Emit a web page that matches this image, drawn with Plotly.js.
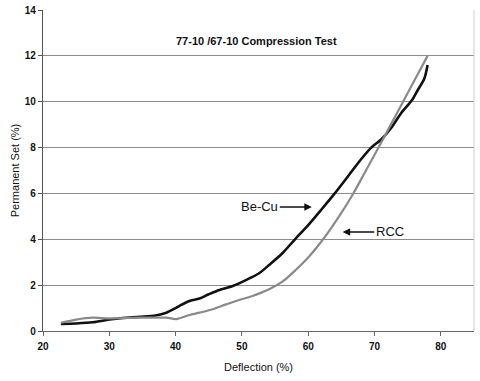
<!DOCTYPE html>
<html>
<head>
<meta charset="utf-8">
<script src="https://cdn.plot.ly/plotly-3.0.1.min.js"></script>
<style>
html,body{margin:0;padding:0;background:#fff;}
#chart{width:480px;height:381px;}
</style>
</head>
<body>
<div id="chart"></div>
<script>
// Be-Cu series (black)
var beCuX = [22.7, 25, 27.5, 30, 32, 34.6, 37, 38.6, 40, 40.6, 42, 43.6, 45, 46.6, 48.6, 50.6, 52.6, 54.1, 56.1, 58, 60, 62, 64, 66, 68, 69.5, 71, 72.5, 74, 75.6, 76.5, 77.5, 78];
var beCuY = [0.31, 0.33, 0.38, 0.5, 0.57, 0.62, 0.68, 0.8, 1.0, 1.1, 1.3, 1.42, 1.6, 1.79, 1.96, 2.22, 2.52, 2.88, 3.39, 4.0, 4.62, 5.3, 6.0, 6.75, 7.5, 8.0, 8.35, 8.85, 9.5, 10.05, 10.5, 11.0, 11.6];
// RCC series (gray)
var rccX = [22.7, 25, 27.5, 30, 32, 34.6, 38.6, 40.1, 42.1, 43.6, 45.6, 47.5, 49.1, 51.6, 54.1, 56.1, 58.1, 60.1, 62.5, 64.7, 66.8, 68.7, 70.6, 72.45, 74.3, 76.15, 78];
var rccY = [0.36, 0.5, 0.58, 0.55, 0.56, 0.58, 0.58, 0.52, 0.7, 0.8, 0.95, 1.15, 1.31, 1.53, 1.82, 2.15, 2.66, 3.24, 4.1, 5.02, 6.0, 7.0, 8.0, 9.0, 10.0, 11.0, 12.0];
// tick labels
var xTicks = [20, 30, 40, 50, 60, 70, 80];
var yTicks = [0, 2, 4, 6, 8, 10, 12, 14];

var font = "Liberation Sans, Arial, sans-serif";

var traces = [
  {x: beCuX, y: beCuY, type: 'scatter', mode: 'lines', name: 'Be-Cu',
   line: {color: '#111111', width: 2.6, shape: 'spline', smoothing: 0.8}},
  {x: rccX, y: rccY, type: 'scatter', mode: 'lines', name: 'RCC',
   line: {color: '#8a8a8a', width: 2.2, shape: 'spline', smoothing: 0.8}}
];

var layout = {
  width: 480, height: 381,
  margin: {l: 43, r: 6, t: 10, b: 50},
  paper_bgcolor: '#ffffff', plot_bgcolor: '#ffffff',
  showlegend: false,
  font: {family: font, color: '#111'},
  xaxis: {
    range: [20, 85], tickvals: xTicks, ticktext: xTicks.map(String),
    showgrid: false, zeroline: false,
    showline: true, linecolor: '#666', linewidth: 1.2,
    ticks: 'outside', ticklen: 4, tickcolor: '#666', ticklabelstandoff: 2,
    tickfont: {family: font, size: 10, color: '#111', weight: 'bold'},
    title: {text: 'Deflection (%)', font: {family: font, size: 11, color: '#111'}, standoff: 12}
  },
  yaxis: {
    range: [0, 14], tickvals: yTicks, ticktext: yTicks.map(String),
    showgrid: true, gridcolor: '#8c8c8c', gridwidth: 1,
    zeroline: false,
    showline: true, linecolor: '#555', linewidth: 1.2,
    ticks: 'outside', ticklen: 4, tickcolor: '#555',
    tickfont: {family: font, size: 10, color: '#111', weight: 'bold'},
    title: {text: 'Permanent Set (%)', font: {family: font, size: 11, color: '#111'}, standoff: 2}
  },
  shapes: [
    {type: 'line', xref: 'paper', yref: 'paper', x0: 1, x1: 1, y0: 0, y1: 1,
     line: {color: '#cfcfcf', width: 1}}
  ],
  annotations: [
    {text: '77-10 /67-10 Compression Test', xref: 'paper', yref: 'paper',
     x: 0.495, y: 0.903, xanchor: 'center', yanchor: 'middle', showarrow: false,
     font: {family: font, size: 11, color: '#111', weight: 'bold'}},
    {text: 'Be-Cu', x: 60.54, y: 5.41, xref: 'x', yref: 'y',
     showarrow: true, ax: -52, ay: 0, arrowhead: 2, arrowsize: 1, arrowwidth: 1.5, arrowcolor: '#111',
     font: {family: font, size: 13, color: '#111'}},
    {text: 'RCC', x: 65.2, y: 4.32, xref: 'x', yref: 'y',
     showarrow: true, ax: 47, ay: 0, arrowhead: 2, arrowsize: 1, arrowwidth: 1.5, arrowcolor: '#111',
     font: {family: font, size: 13, color: '#111'}}
  ]
};

Plotly.newPlot('chart', traces, layout, {staticPlot: true, displayModeBar: false});
</script>
</body>
</html>
